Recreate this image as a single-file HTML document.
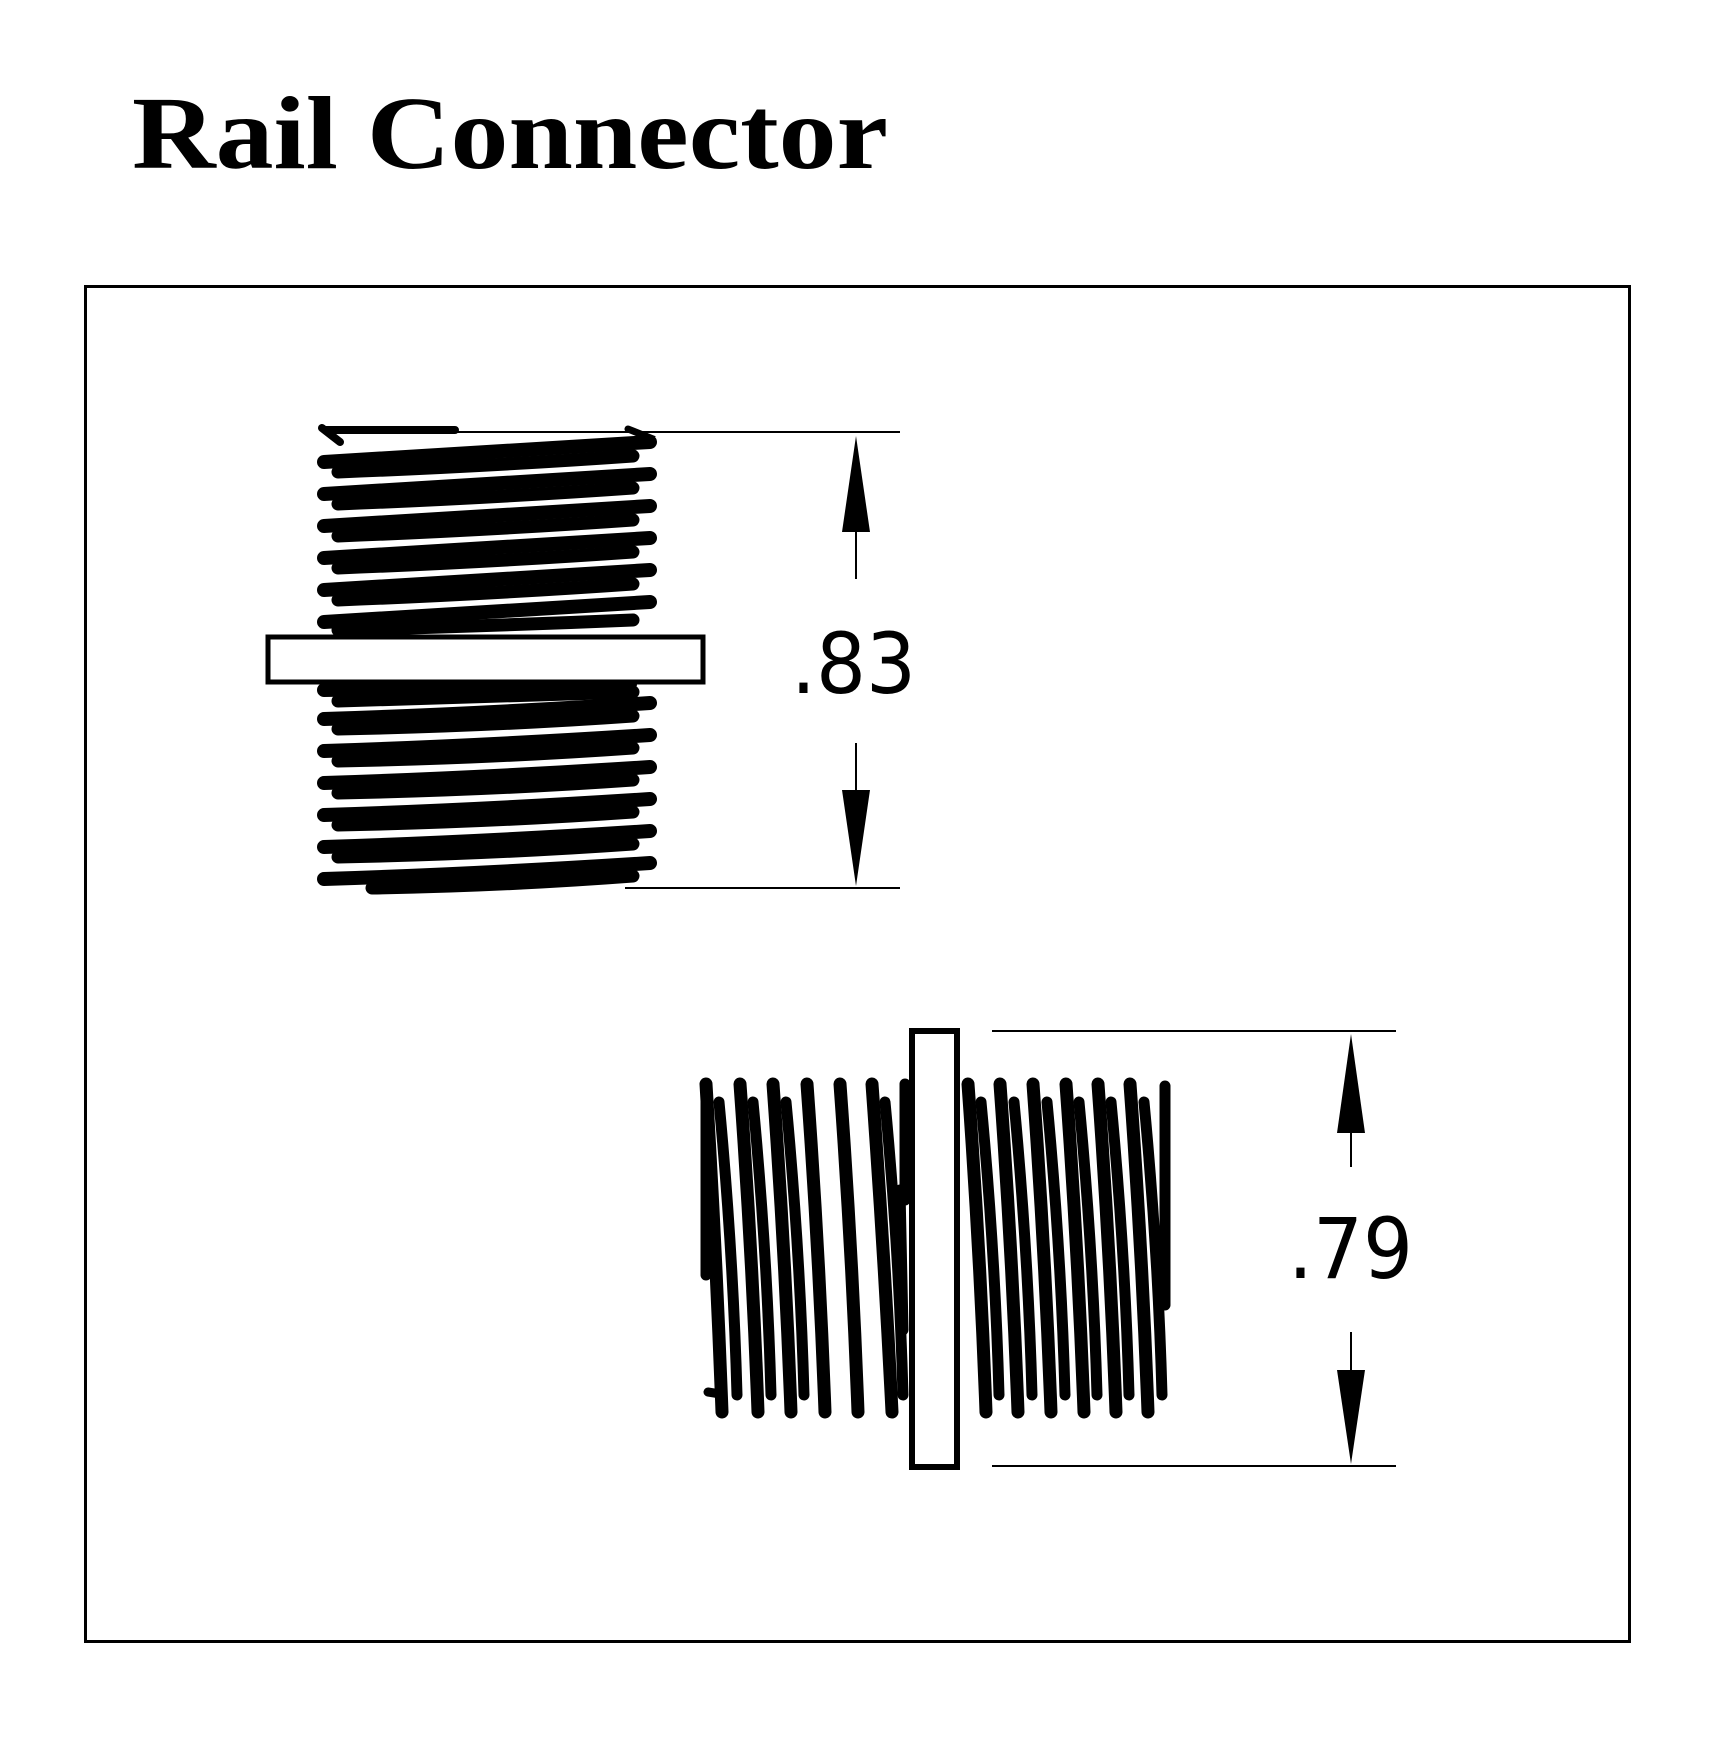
<!DOCTYPE html>
<html><head><meta charset="utf-8"><style>
html,body{margin:0;padding:0;background:#fff;}
svg{display:block;}
</style></head><body>
<svg width="1721" height="1751" viewBox="0 0 1721 1751" xmlns="http://www.w3.org/2000/svg">
<rect width="1721" height="1751" fill="#fff"/>
<text x="132" y="168" font-family="Liberation Serif, serif" font-weight="bold" font-size="104" textLength="756" lengthAdjust="spacingAndGlyphs">Rail Connector</text>
<rect x="85.5" y="286.5" width="1544" height="1355" fill="none" stroke="#000" stroke-width="3"/>

<!-- top view threads -->
<g stroke="#000" stroke-linecap="round" fill="none">
<path d="M322 428 L340 442 M325 430 L455 430" stroke-width="8"/>
<path d="M628 429 L648 437 L636 444" stroke-width="7"/>
<g stroke-width="14">
<path d="M324 462 Q480 452 650 442"/><path d="M324 494 Q480 484 650 474"/><path d="M324 526 Q480 516 650 506"/>
<path d="M324 558 Q480 548 650 538"/><path d="M324 590 Q480 580 650 570"/><path d="M324 622 Q480 612 650 602"/>
</g>
<g stroke-width="13">
<path d="M338 472 Q490 466 633 456"/><path d="M338 504 Q490 498 633 488"/><path d="M338 536 Q490 530 633 520"/>
<path d="M338 568 Q490 562 633 552"/><path d="M338 600 Q490 594 633 584"/><path d="M338 630 Q490 626 633 620"/>
</g>
<g stroke-width="14">
<path d="M324 690 Q480 688 630 684"/>
<path d="M324 719 Q480 714 650 703"/><path d="M324 751 Q480 746 650 735"/><path d="M324 783 Q480 778 650 767"/>
<path d="M324 815 Q480 810 650 799"/><path d="M324 847 Q480 842 650 831"/><path d="M324 879 Q480 874 650 863"/>
</g>
<g stroke-width="13">
<path d="M338 701 Q490 697 633 692"/>
<path d="M338 729 Q490 726 633 716"/><path d="M338 761 Q490 758 633 748"/><path d="M338 793 Q490 790 633 780"/>
<path d="M338 825 Q490 822 633 812"/><path d="M338 857 Q490 854 633 844"/><path d="M372 888 Q500 886 633 876"/>
</g>
</g>
<rect x="268" y="637" width="435" height="45" fill="#fff" stroke="#000" stroke-width="5"/>
<!-- top dims -->
<g stroke="#000" stroke-width="2">
<line x1="455" y1="432" x2="900" y2="432"/>
<line x1="625" y1="888" x2="900" y2="888"/>
<line x1="856" y1="530" x2="856" y2="579"/>
<line x1="856" y1="743" x2="856" y2="795"/>
</g>
<polygon points="856,436 842,532 870,532" fill="#000"/>
<polygon points="856,886 842,790 870,790" fill="#000"/>
<text x="791" y="693" font-family="DejaVu Sans, sans-serif" font-size="84" textLength="125" lengthAdjust="spacingAndGlyphs">.83</text>

<!-- side view threads -->
<g stroke="#000" stroke-linecap="round" fill="none">
<g stroke-width="13">
<path d="M706 1084 Q716 1250 722 1412"/><path d="M740 1084 Q752 1250 758 1412"/><path d="M773 1084 Q785 1250 791 1412"/>
<path d="M807 1084 Q819 1250 825 1412"/><path d="M840 1084 Q852 1250 858 1412"/><path d="M872 1084 Q884 1250 892 1412"/>
<path d="M968 1084 Q980 1250 986 1412"/><path d="M1000 1084 Q1012 1250 1018 1412"/><path d="M1033 1084 Q1045 1250 1051 1412"/>
<path d="M1066 1084 Q1078 1250 1084 1412"/><path d="M1098 1084 Q1110 1250 1116 1412"/><path d="M1130 1084 Q1142 1250 1148 1412"/>
</g>
<g stroke-width="11">
<path d="M719 1102 Q733 1250 737 1395"/><path d="M753 1102 Q767 1250 771 1395"/><path d="M786 1102 Q800 1250 804 1395"/>
<path d="M885 1102 Q899 1250 903 1395"/><path d="M981 1102 Q995 1250 999 1395"/><path d="M1014 1102 Q1028 1250 1032 1395"/>
<path d="M1047 1102 Q1061 1250 1065 1395"/><path d="M1079 1102 Q1093 1250 1097 1395"/><path d="M1111 1102 Q1125 1250 1129 1395"/>
<path d="M1144 1102 Q1158 1250 1162 1395"/>
<path d="M1165 1086 L1165 1305"/><path d="M706 1084 L706 1275"/><path d="M905 1084 L905 1200"/>
<path d="M900 1190 L903 1330"/>
</g>
<path d="M708 1392 L720 1394" stroke-width="9"/>
</g>
<rect x="912" y="1031" width="45" height="436" fill="#fff" stroke="#000" stroke-width="6"/>
<!-- side dims -->
<g stroke="#000" stroke-width="2">
<line x1="992" y1="1031" x2="1396" y2="1031"/>
<line x1="992" y1="1466" x2="1396" y2="1466"/>
<line x1="1351" y1="1130" x2="1351" y2="1167"/>
<line x1="1351" y1="1332" x2="1351" y2="1374"/>
</g>
<polygon points="1351,1034 1337,1133 1365,1133" fill="#000"/>
<polygon points="1351,1464 1337,1370 1365,1370" fill="#000"/>
<text x="1288" y="1278" font-family="DejaVu Sans, sans-serif" font-size="84" textLength="125" lengthAdjust="spacingAndGlyphs">.79</text>
</svg>
</body></html>
